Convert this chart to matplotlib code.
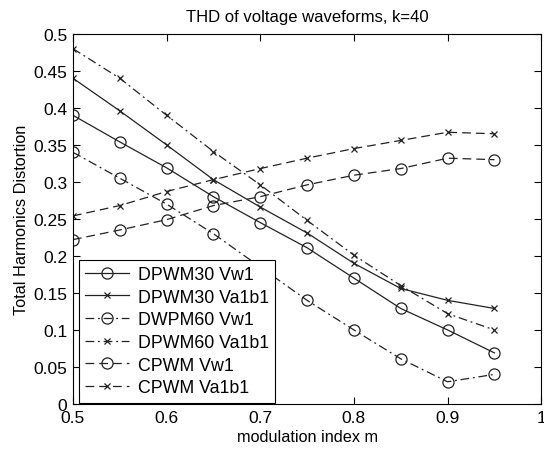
import numpy as np
import matplotlib
matplotlib.use('Agg')
import matplotlib.pyplot as plt

plt.rcParams['font.family'] = ['Liberation Sans', 'DejaVu Sans']

m = [0.5, 0.55, 0.6, 0.65, 0.7, 0.75, 0.8, 0.85, 0.9, 0.95]

dpwm30_vw1 = [0.39, 0.354, 0.319, 0.280, 0.245, 0.211, 0.170, 0.129, 0.100, 0.069]
dpwm30_va1b1 = [0.44, 0.396, 0.350, 0.303, 0.266, 0.231, 0.190, 0.156, 0.140, 0.129]
dpwm60_vw1 = [0.34, 0.305, 0.270, 0.230, 0.185, 0.140, 0.100, 0.061, 0.030, 0.040]
dpwm60_va1b1 = [0.48, 0.440, 0.390, 0.341, 0.296, 0.248, 0.201, 0.160, 0.122, 0.100]
cpwm_vw1 = [0.222, 0.235, 0.249, 0.268, 0.280, 0.296, 0.309, 0.318, 0.332, 0.330]
cpwm_va1b1 = [0.254, 0.268, 0.287, 0.303, 0.318, 0.332, 0.345, 0.356, 0.367, 0.365]

labels = ['DPWM30 Vw1', 'DPWM30 Va1b1', 'DWPM60 Vw1',
          'DPWM60 Va1b1', 'CPWM Vw1', 'CPWM Va1b1']

fig = plt.figure(figsize=(5.44, 4.52), dpi=100)
ax = fig.add_axes([0.134, 0.104, 0.861, 0.819])

col = '#222222'
circ = dict(marker='o', markersize=8, markerfacecolor='none',
            markeredgecolor=col, markeredgewidth=0.9)
cross = dict(marker='x', markersize=4.5, markeredgecolor=col, markeredgewidth=0.9)
dashdot = (0, (7, 3, 1.5, 3))
dashed = (0, (7, 4))

ax.plot(m, dpwm30_vw1, color=col, lw=0.9, linestyle='-', label=labels[0], **circ)
ax.plot(m, dpwm30_va1b1, color=col, lw=0.9, linestyle='-', label=labels[1], **cross)
ax.plot(m, dpwm60_vw1, color=col, lw=0.9, linestyle=dashdot, label=labels[2], **circ)
ax.plot(m, dpwm60_va1b1, color=col, lw=0.9, linestyle=dashdot, label=labels[3], **cross)
ax.plot(m, cpwm_vw1, color=col, lw=0.9, linestyle=dashed, label=labels[4], **circ)
ax.plot(m, cpwm_va1b1, color=col, lw=0.9, linestyle=dashed, label=labels[5], **cross)

ax.set_xlim(0.5, 1.0)
ax.set_ylim(0, 0.5)
ax.set_xticks(np.arange(0.5, 1.01, 0.1))
ax.set_xticklabels(['0.5', '0.6', '0.7', '0.8', '0.9', '1'])
ax.set_yticks(np.arange(0, 0.51, 0.05))
ax.set_yticklabels(['0', '0.05', '0.1', '0.15', '0.2', '0.25', '0.3',
                    '0.35', '0.4', '0.45', '0.5'])
ax.tick_params(direction='in', top=True, right=True, labelsize=12.5,
               length=5, width=0.8, pad=4)
for s in ax.spines.values():
    s.set_linewidth(0.8)

ax.set_title('THD of voltage waveforms, k=40', fontsize=12, pad=9)
ax.set_xlabel('modulation index m', fontsize=11.7, labelpad=3)
ax.set_ylabel('Total Harmonics Distortion', fontsize=11.7, labelpad=3)

# legend box sits a little in from the left axis like the MATLAB one
leg = ax.legend(loc='lower left', bbox_to_anchor=(0.012, 0.004),
                fontsize=12.8, frameon=True, fancybox=False,
                borderaxespad=0.0, handlelength=2.5, labelspacing=0.32,
                borderpad=0.35, handletextpad=0.5, framealpha=1)
leg.get_frame().set_edgecolor('black')
leg.get_frame().set_linewidth(0.8)

plt.savefig('out.png', dpi=100)
